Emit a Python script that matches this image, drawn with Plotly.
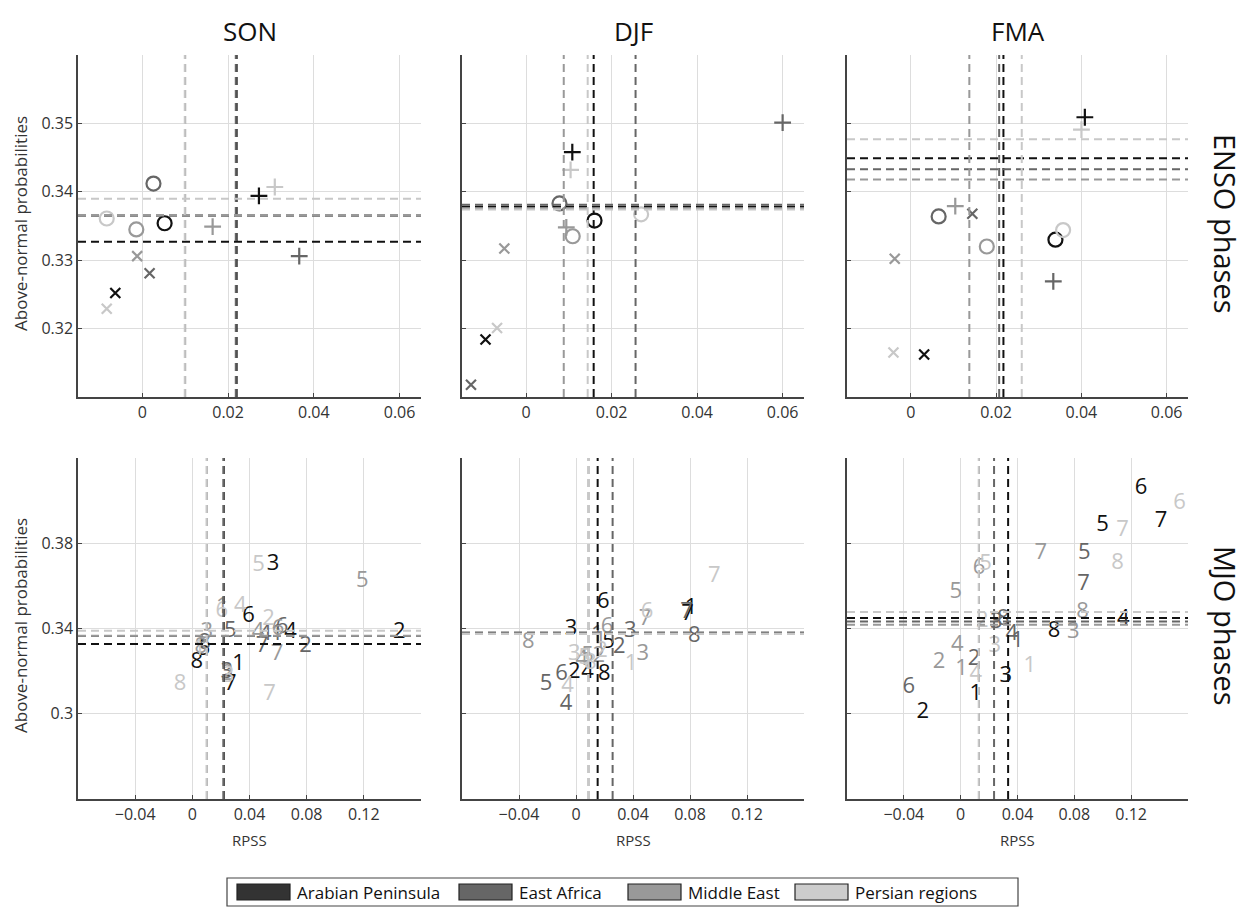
import plotly.graph_objects as go
from plotly.subplots import make_subplots

# ---------------- data ----------------
REGIONS = ["Arabian Peninsula", "East Africa", "Middle East", "Persian regions"]
REGION_COLORS = ["#111111", "#666666", "#999999", "#c8c8c8"]
LEGEND_COLORS = ["#333333", "#666666", "#999999", "#cccccc"]
SEASONS = ["SON", "DJF", "FMA"]
PHASE_LABELS = ["1", "2", "3", "4", "5", "6", "7", "8"]
ENSO_SYMBOLS = ["circle-open", "x-thin-open", "cross-thin-open"]

# ENSO: per region [circle, x, plus]
SON_ENSO_RPSS = [[0.0052, -0.0063, 0.0272], [0.0026, 0.0017, 0.0366],
                 [-0.0014, -0.0012, 0.0164], [-0.0083, -0.0083, 0.0309]]
SON_ENSO_PROB = [[0.3354, 0.3252, 0.3394], [0.3412, 0.3281, 0.3306],
                 [0.3345, 0.3306, 0.3349], [0.3361, 0.3229, 0.3407]]
DJF_ENSO_RPSS = [[0.0160, -0.0095, 0.0108], [0.0078, -0.0129, 0.0600],
                 [0.0109, -0.0051, 0.0094], [0.0269, -0.0068, 0.0104]]
DJF_ENSO_PROB = [[0.3358, 0.3184, 0.3458], [0.3383, 0.3118, 0.3501],
                 [0.3335, 0.3317, 0.3348], [0.3367, 0.3201, 0.3432]]
FMA_ENSO_RPSS = [[0.0339, 0.0031, 0.0408], [0.0065, 0.0144, 0.0334],
                 [0.0178, -0.0038, 0.0104], [0.0357, -0.0041, 0.0400]]
FMA_ENSO_PROB = [[0.3330, 0.3162, 0.3509], [0.3364, 0.3368, 0.3269],
                 [0.3320, 0.3302, 0.3379], [0.3344, 0.3165, 0.3491]]

# mean probability per region (horizontal dashed lines), per season
SON_PROB_MEAN = [0.3327, 0.3365, 0.3366, 0.3390]
DJF_PROB_MEAN = [0.3378, 0.3381, 0.3376, 0.3374]
FMA_PROB_MEAN = [0.3449, 0.3433, 0.3418, 0.3477]

# mean RPSS per region (vertical dashed lines), per panel
SON_ENSO_RPSS_MEAN = [0.0220, 0.0218, 0.0100, 0.0099]
DJF_ENSO_RPSS_MEAN = [0.0158, 0.0256, 0.0088, 0.0144]
FMA_ENSO_RPSS_MEAN = [0.0217, 0.0207, 0.0137, 0.0260]
SON_MJO_RPSS_MEAN = [0.0220, 0.0218, 0.0102, 0.0100]
DJF_MJO_RPSS_MEAN = [0.0152, 0.0257, 0.0088, 0.0086]
FMA_MJO_RPSS_MEAN = [0.0334, 0.0235, 0.0129, 0.0127]

# MJO: per region, phases 1..8
SON_MJO_RPSS = [[0.0323, 0.1448, 0.0565, 0.0687, 0.0082, 0.0394, 0.0265, 0.0031],
                [0.0593, 0.0792, 0.0242, 0.0511, 0.0265, 0.0628, 0.0488, 0.0085],
                [0.0210, 0.0245, 0.0101, 0.0460, 0.1190, 0.0600, 0.0593, 0.0060],
                [0.0049, 0.0534, 0.0250, 0.0335, 0.0464, 0.0207, 0.0541, -0.0086]]
SON_MJO_PROB = [[0.3232, 0.3380, 0.3702, 0.3380, 0.3302, 0.3457, 0.3138, 0.3242],
                [0.3372, 0.3317, 0.3193, 0.3372, 0.3388, 0.3403, 0.3317, 0.3330],
                [0.3500, 0.3185, 0.3383, 0.3380, 0.3621, 0.3395, 0.3278, 0.3310],
                [0.3302, 0.3442, 0.3175, 0.3504, 0.3694, 0.3480, 0.3092, 0.3138]]
DJF_MJO_RPSS = [[0.0807, -0.0012, -0.0035, 0.0081, 0.0229, 0.0192, 0.0783, 0.0199],
                [0.0150, 0.0304, 0.0381, -0.0070, -0.0211, -0.0101, 0.0775, 0.0830],
                [0.0170, 0.0160, 0.0468, 0.0040, 0.0081, 0.0218, 0.0484, -0.0335],
                [0.0386, 0.0180, -0.0012, -0.0059, 0.0060, 0.0498, 0.0971, 0.0100]]
DJF_MJO_PROB = [[0.3496, 0.3193, 0.3395, 0.3193, 0.3336, 0.3520, 0.3465, 0.3185],
                [0.3365, 0.3310, 0.3387, 0.3045, 0.3138, 0.3185, 0.3475, 0.3364],
                [0.3340, 0.3270, 0.3278, 0.3255, 0.3270, 0.3403, 0.3440, 0.3333],
                [0.3232, 0.3290, 0.3278, 0.3130, 0.3260, 0.3473, 0.3644, 0.3235]]
FMA_MJO_RPSS = [[0.0106, -0.0266, 0.0318, 0.1145, 0.0999, 0.1270, 0.1411, 0.0658],
                [0.0400, 0.0094, 0.0250, 0.0360, 0.0870, -0.0365, 0.0865, 0.0300],
                [0.0007, -0.0153, 0.0792, -0.0024, -0.0035, 0.0129, 0.0564, 0.0858],
                [0.0487, 0.0152, 0.0240, 0.0106, 0.0176, 0.1540, 0.1140, 0.1105]]
FMA_MJO_PROB = [[0.3092, 0.3006, 0.3177, 0.3442, 0.3881, 0.4057, 0.3901, 0.3387],
                [0.3338, 0.3255, 0.3430, 0.3372, 0.3753, 0.3123, 0.3605, 0.3440],
                [0.3208, 0.3240, 0.3380, 0.3320, 0.3569, 0.3683, 0.3753, 0.3473],
                [0.3224, 0.3434, 0.3317, 0.3185, 0.3699, 0.3987, 0.3859, 0.3703]]

ENSO_X_TICKS = [0, 0.02, 0.04, 0.06]
ENSO_Y_TICKS = [0.32, 0.33, 0.34, 0.35]
MJO_X_TICKS = [-0.04, 0, 0.04, 0.08, 0.12]
MJO_Y_TICKS = [0.30, 0.34, 0.38]
ENSO_X_RANGE = [-0.015, 0.065]
ENSO_Y_RANGE = [0.31, 0.36]
MJO_X_RANGE = [-0.08, 0.16]
MJO_Y_RANGE = [0.26, 0.42]

# ---------------- figure ----------------
W, H = 1257, 909
OFF = 8  # page body margin in the browser
FONT = "Open Sans"


def px(xp):
    return (xp - OFF) / W


def py(yp):
    return 1 - (yp - OFF) / H


fig = make_subplots(rows=2, cols=3)

XD = [[px(78), px(421)], [px(462), px(804)], [px(847), px(1188)]]
YD = [[py(397), py(55)], [py(799), py(458)]]

enso_rpss = [SON_ENSO_RPSS, DJF_ENSO_RPSS, FMA_ENSO_RPSS]
enso_prob = [SON_ENSO_PROB, DJF_ENSO_PROB, FMA_ENSO_PROB]
mjo_rpss = [SON_MJO_RPSS, DJF_MJO_RPSS, FMA_MJO_RPSS]
mjo_prob = [SON_MJO_PROB, DJF_MJO_PROB, FMA_MJO_PROB]
prob_mean = [SON_PROB_MEAN, DJF_PROB_MEAN, FMA_PROB_MEAN]
enso_vmean = [SON_ENSO_RPSS_MEAN, DJF_ENSO_RPSS_MEAN, FMA_ENSO_RPSS_MEAN]
mjo_vmean = [SON_MJO_RPSS_MEAN, DJF_MJO_RPSS_MEAN, FMA_MJO_RPSS_MEAN]

axis_common = dict(showline=True, linecolor="#444444", linewidth=1.5, mirror=False,
                   ticks="inside", ticklen=4, tickcolor="#444444",
                   showgrid=True, gridcolor="#dddddd", gridwidth=1, zeroline=False,
                   tickfont=dict(family=FONT, size=16, color="#333333"))

for c in range(3):
    # ---- ENSO row ----
    for r in range(4):
        for k in range(3):
            sym = ENSO_SYMBOLS[k]
            size = 14 if k == 0 else (10 if k == 1 else 12)
            fig.add_trace(go.Scatter(
                x=[enso_rpss[c][r][k]], y=[enso_prob[c][r][k]], mode="markers",
                marker=dict(symbol=sym, size=size, color=REGION_COLORS[r],
                            line=dict(color=REGION_COLORS[r], width=2.2)),
                showlegend=False, hoverinfo="skip"), row=1, col=c + 1)
    # ---- MJO row ----
    for r in range(4):
        fig.add_trace(go.Scatter(
            x=mjo_rpss[c][r], y=mjo_prob[c][r], mode="text", text=PHASE_LABELS,
            textposition="middle center",
            textfont=dict(family=FONT, size=22, color=REGION_COLORS[r]),
            showlegend=False, hoverinfo="skip"), row=2, col=c + 1)

    # dashed mean lines
    for row, vm in ((1, enso_vmean[c]), (2, mjo_vmean[c])):
        for r in range(4):
            fig.add_vline(x=vm[r], line=dict(color=REGION_COLORS[r], width=2, dash="8px,5px"),
                          row=row, col=c + 1)
            fig.add_hline(y=prob_mean[c][r], line=dict(color=REGION_COLORS[r], width=2, dash="8px,5px"),
                          row=row, col=c + 1)

    fig.update_xaxes(domain=XD[c], range=ENSO_X_RANGE, tickvals=ENSO_X_TICKS,
                     ticktext=["0" if v == 0 else f"{v:g}" for v in ENSO_X_TICKS],
                     ticklabelstandoff=0, row=1, col=c + 1, **axis_common)
    fig.update_yaxes(domain=YD[0], range=ENSO_Y_RANGE, tickvals=ENSO_Y_TICKS,
                     ticklabelstandoff=0, showticklabels=(c == 0), row=1, col=c + 1, **axis_common)
    fig.update_xaxes(domain=XD[c], range=MJO_X_RANGE, tickvals=MJO_X_TICKS,
                     ticklabelstandoff=0, row=2, col=c + 1, **axis_common)
    fig.update_yaxes(domain=YD[1], range=MJO_Y_RANGE, tickvals=MJO_Y_TICKS,
                     ticklabelstandoff=0, showticklabels=(c == 0), row=2, col=c + 1, **axis_common)

annotations = []
for c, s in enumerate(SEASONS):
    xc = (XD[c][0] + XD[c][1]) / 2
    annotations.append(dict(text=s, x=xc, y=py(31), xref="paper", yref="paper",
                            xanchor="center", yanchor="middle",
                            showarrow=False, font=dict(family=FONT, size=26, color="#111111")))
    annotations.append(dict(text="RPSS", x=xc, y=py(840), xref="paper", yref="paper",
                            xanchor="center", yanchor="middle",
                            showarrow=False, font=dict(family=FONT, size=15, color="#333333")))
for yc, lab in ((py(224), "ENSO phases"), (py(626), "MJO phases")):
    annotations.append(dict(text=lab, x=px(1226), y=yc, xref="paper", yref="paper",
                            xanchor="center", yanchor="middle",
                            textangle=90, showarrow=False,
                            font=dict(family=FONT, size=29, color="#111111")))
    annotations.append(dict(text="Above-normal probabilities", x=px(20), y=yc,
                            xref="paper", yref="paper", textangle=-90, showarrow=False,
                            xanchor="center", yanchor="middle",
                            font=dict(family=FONT, size=17, color="#333333")))

# legend box (manual, rectangles like the original)
shapes = [dict(type="rect", xref="paper", yref="paper", x0=px(227), x1=px(1018),
               y0=py(906), y1=py(878), line=dict(color="#444444", width=1.2),
               fillcolor="white")]
sw_x = [237, 459, 628, 795]
for i, name in enumerate(REGIONS):
    shapes.append(dict(type="rect", xref="paper", yref="paper",
                       x0=px(sw_x[i]), x1=px(sw_x[i] + 53),
                       y0=py(900), y1=py(884),
                       line=dict(color="#222222", width=1.2), fillcolor=LEGEND_COLORS[i]))
    annotations.append(dict(text=name, x=px(sw_x[i] + 58), y=py(892),
                            xref="paper", yref="paper", xanchor="left", yanchor="middle",
                            showarrow=False, font=dict(family=FONT, size=17, color="#111111")))

fig.update_layout(width=W, height=H, autosize=False,
                  margin=dict(l=0, r=0, t=0, b=0),
                  paper_bgcolor="white", plot_bgcolor="white",
                  annotations=list(fig.layout.annotations) + annotations,
                  shapes=list(fig.layout.shapes) + shapes,
                  showlegend=False)

fig.write_html("out.html")
